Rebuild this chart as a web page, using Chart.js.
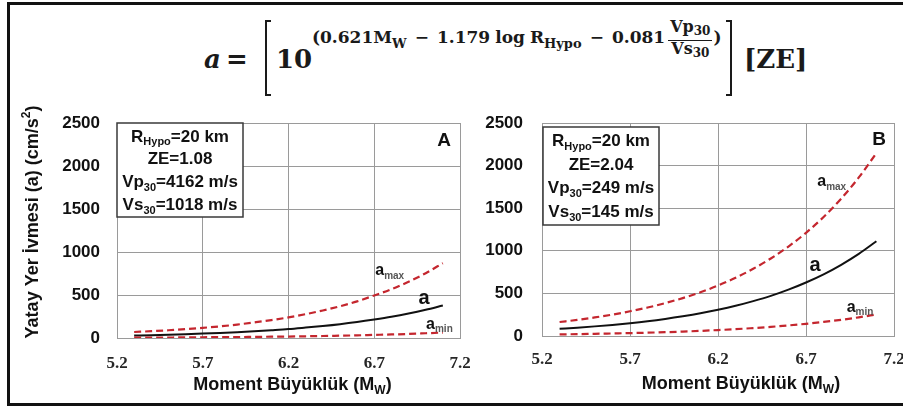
<!DOCTYPE html>
<html>
<head>
<meta charset="utf-8">
<script src="https://cdn.jsdelivr.net/npm/chart.js@4/dist/chart.umd.min.js"></script>
<style>
  html, body { margin:0; padding:0; background:#fff; }
  body { width:903px; height:407px; position:relative; overflow:hidden; }
  #frame { position:absolute; left:7px; top:2px; width:905px; height:404px; border:3px solid #111; box-sizing:border-box; }
  canvas { position:absolute; top:0; }
  #cA { left:0; }
  #cB { left:460px; }
  .fm { position:absolute; font-family:'DejaVu Serif', serif; font-weight:bold; color:#1a1a1a; line-height:1; white-space:nowrap; }
  .big { font-size:26px; top:46px; }
  #fa { left:204px; font-style:italic; }
  #feq { left:226px; }
  #ften { left:276px; }
  #fze { left:744px; }
  #fexp { left:312px; top:29px; font-size:17px; display:flex; align-items:baseline; }
  #fexp > sub { font-size:13px; position:relative; top:5px; line-height:1; }
  #fexp .mo { margin:0 8px; }
  #fexp .sp { display:inline-block; width:5px; }
  #fexp .frac { display:inline-flex; flex-direction:column; align-items:center; position:relative; top:-11px; font-size:16px; line-height:15px; margin:0 1px 0 3px; }
  #fexp .frac .num { border-bottom:1.5px solid #1a1a1a; padding:0 2px 1px; }
  #fexp .frac sub { font-size:12px; vertical-align:-3px; }
  .brk { position:absolute; top:20px; width:6px; height:76px; border:2.5px solid #1a1a1a; box-sizing:border-box; }
  #bl { left:265px; border-right:none; }
  #br { left:726px; border-left:none; }
</style>
</head>
<body>
<div id="frame"></div>
<div class="brk" id="bl"></div>
<div class="brk" id="br"></div>
<div class="fm big" id="fa">a</div>
<div class="fm big" id="feq">=</div>
<div class="fm big" id="ften">10</div>
<div class="fm" id="fexp"><span>(0.621M</span><sub>W</sub><span class="mo">−</span><span>1.179</span><span class="sp"></span><span>log</span><span class="sp"></span><span>R</span><sub>Hypo</sub><span class="mo">−</span><span>0.081</span><span class="frac"><span class="num">Vp<sub>30</sub></span><span class="den">Vs<sub>30</sub></span></span><span>)</span></div>
<div class="fm big" id="fze">[ZE]</div>
<canvas id="cA" width="470" height="407" style="width:470px;height:407px"></canvas>
<canvas id="cB" width="443" height="407" style="width:443px;height:407px"></canvas>
<script>
// ---------- data ----------
const mw = [5.3,5.4,5.5,5.6,5.7,5.8,5.9,6.0,6.1,6.2,6.3,6.4,6.5,6.6,6.7,6.8,6.9,7.0,7.1];

// Panel A
const aA    = [29,33,38,44,51,59,68,79,91,104,121,139,160,185,214,246,284,328,378];
const aMaxA = [70,79,90,103,118,135,156,181,208,240,277,320,369,426,495,567,654,754,870];
const aMinA = [5,6,6,7,9,10,11,13,15,17,20,23,27,31,36,41,47,55,63];

// Panel B
const aB    = [85,98,113,130,150,173,200,231,266,307,354,409,471,544,628,724,836,964,1112];
const aMaxB = [164,189,218,251,290,334,386,445,513,592,683,789,910,1050,1211,1397,1612,1861,2147];
const aMinB = [19,22,26,30,34,39,45,52,60,70,80,93,107,124,143,165,190,219,253];

const xTicks = [5.2,5.7,6.2,6.7,7.2];
const yTicks = [0,500,1000,1500,2000,2500];

const xTitle = [{t:'Moment Büyüklük (M'},{t:'W',sub:true},{t:')'}];
const yTitle = [{t:'Yatay Yer İvmesi (a) (cm/s'},{t:'2',sup:true},{t:')'}];

const infoA = [
  [{t:'R'},{t:'Hypo',sub:true},{t:'=20 km'}],
  [{t:'ZE=1.08'}],
  [{t:'Vp'},{t:'30',sub:true},{t:'=4162 m/s'}],
  [{t:'Vs'},{t:'30',sub:true},{t:'=1018 m/s'}]
];
const infoB = [
  [{t:'R'},{t:'Hypo',sub:true},{t:'=20 km'}],
  [{t:'ZE=2.04'}],
  [{t:'Vp'},{t:'30',sub:true},{t:'=249 m/s'}],
  [{t:'Vs'},{t:'30',sub:true},{t:'=145 m/s'}]
];
// curve labels: [text segments, x (Mw), y (cm/s2), size]
const labelsA = [
  [[{t:'a'},{t:'max',sub:true,grey:true}], 6.79, 780, 16],
  [[{t:'a'}], 6.99, 462, 20],
  [[{t:'a'},{t:'min',sub:true,grey:true}], 7.08, 160, 16],
  [[{t:'A'}], 7.107, 2299, 19]
];
const labelsB = [
  [[{t:'a'},{t:'max',sub:true,grey:true}], 6.846, 1808, 16],
  [[{t:'a'}], 6.751, 830, 20],
  [[{t:'a'},{t:'min',sub:true,grey:true}], 7.007, 337, 16],
  [[{t:'B'}], 7.115, 2309, 19]
];

// ---------- helpers ----------
const FAM = "'Liberation Sans', Arial, sans-serif";
function segFont(s, size){ return 'bold ' + ((s.sub||s.sup) ? Math.round(size*0.65) : size) + 'px ' + FAM; }
function richWidth(ctx, segs, size){
  let w = 0;
  segs.forEach(s => { ctx.font = segFont(s,size); w += ctx.measureText(s.t).width; });
  return w;
}
function drawRich(ctx, segs, cx, cy, size, color){
  const w = richWidth(ctx, segs, size);
  let x = cx - w/2;
  ctx.textBaseline = 'middle';
  ctx.textAlign = 'left';
  segs.forEach(s => {
    ctx.font = segFont(s,size);
    let dy = 0;
    if (s.sub) dy = size*0.32;
    if (s.sup) dy = -size*0.35;
    ctx.fillStyle = s.grey ? '#555' : color;
    ctx.fillText(s.t, x, cy + dy);
    x += ctx.measureText(s.t).width;
  });
}

const decor = {
  id:'decor',
  afterDraw(chart, args, o){
    const ctx = chart.ctx, ca = chart.chartArea;
    const xs = chart.scales.x, ys = chart.scales.y;
    ctx.save();
    drawRich(ctx, xTitle, (ca.left+ca.right)/2 + o.xTitleDx, o.xTitleY, 18, '#111');
    if (o.yTitle) {
      ctx.save();
      ctx.translate(o.yTitleX, o.yTitleY);
      ctx.rotate(-Math.PI/2);
      drawRich(ctx, yTitle, 0, 0, 18, '#111');
      ctx.restore();
    }
    const b = o.box;
    const bx = ca.left + b.dx, by = ca.top + b.dy;
    ctx.fillStyle = '#fff';
    ctx.fillRect(bx, by, b.w, b.h);
    ctx.strokeStyle = '#3a3a3a';
    ctx.lineWidth = 1.5;
    ctx.strokeRect(bx, by, b.w, b.h);
    o.info.forEach((line, i) => drawRich(ctx, line, bx + b.w/2, by + b.first + i*b.step, b.size, '#111'));
    o.labels.forEach(l => drawRich(ctx, l[0], xs.getPixelForValue(l[1]), ys.getPixelForValue(l[2]), l[3], '#111'));
    ctx.restore();
  }
};

function makeChart(id, a, amax, amin, opts){
  const pts = arr => mw.map((m,i) => ({x:m, y:arr[i]}));
  const red = '#c4262e';
  return new Chart(document.getElementById(id), {
    type:'line',
    data:{ datasets:[
      {data:pts(amax), borderColor:red, borderWidth:2.2, borderDash:[7,4], pointRadius:0, cubicInterpolationMode:'monotone', fill:false},
      {data:pts(amin), borderColor:red, borderWidth:2.2, borderDash:[7,4], pointRadius:0, cubicInterpolationMode:'monotone', fill:false},
      {data:pts(a), borderColor:'#111', borderWidth:2, pointRadius:0, cubicInterpolationMode:'monotone', fill:false}
    ]},
    options:{
      responsive:false, animation:false, events:[],
      layout:{ autoPadding:false, padding:opts.padding },
      plugins:{ legend:{display:false}, tooltip:{enabled:false}, title:{display:false},
        decor: opts.decor },
      scales:{
        x:{ type:'linear', min:5.2, max:7.2,
            afterBuildTicks: s => { s.ticks = xTicks.map(v => ({value:v})); },
            afterFit: s => { s.height = opts.xHeight; s.paddingLeft = 0; s.paddingRight = 0; },
            grid:{ color:'#9a9a9a', lineWidth:1, drawTicks:false },
            border:{ color:'#9a9a9a', width:1 },
            ticks:{ padding:opts.xPad, color:'#262626', maxRotation:0, autoSkip:false,
                    font:{ family:"'Liberation Serif', 'Times New Roman', serif", weight:'bold', size:17 },
                    callback: v => v.toFixed(1) } },
        y:{ type:'linear', min:0, max:2500,
            afterBuildTicks: s => { s.ticks = yTicks.map(v => ({value:v})); },
            afterFit: s => { s.width = opts.yWidth; s.paddingTop = 0; s.paddingBottom = 0; },
            grid:{ color:'#9a9a9a', lineWidth:1, drawTicks:false },
            border:{ color:'#9a9a9a', width:1 },
            ticks:{ padding:opts.yPad, color:'#111',
                    font:{ family:FAM, weight:'bold', size:17 },
                    callback: v => String(v) } }
      }
    },
    plugins:[decor]
  });
}

makeChart('cA', aA, aMaxA, aMinA, {
  padding:{left:10, right:10, top:123, bottom:0}, yWidth:107, xHeight:69, xPad:15, yPad:17,
  decor:{ xTitleDx:4, xTitleY:385, yTitle:true, yTitleX:33, yTitleY:222,
          box:{dx:0, dy:0, w:126, h:94, first:14, step:22.7, size:17}, info:infoA, labels:labelsA }
});
makeChart('cB', aB, aMaxB, aMinB, {
  padding:{left:5, right:9, top:123, bottom:0}, yWidth:77, xHeight:71, xPad:13, yPad:19,
  decor:{ xTitleDx:23, xTitleY:384, yTitle:false,
          box:{dx:1, dy:4, w:116, h:98, first:14.7, step:23.5, size:17}, info:infoB, labels:labelsB }
});
</script>
</body>
</html>
